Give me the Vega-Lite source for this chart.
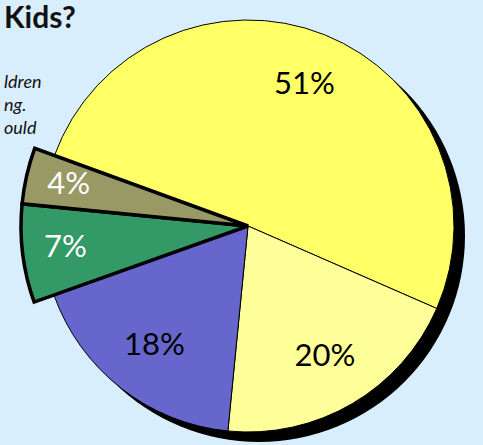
{
  "$schema": "https://vega.github.io/schema/vega-lite/v6.json",
  "autosize": {"type": "none"},
  "width": 470,
  "height": 152,
  "padding": {"left": 13, "top": 150, "right": 0, "bottom": 143},
  "background": "#d8eefc",
  "view": {"stroke": null},
  "title": {
    "text": "Kids?",
    "subtitle": ["ldren", "ng.", "ould"],
    "anchor": "start",
    "frame": "group",
    "dx": -9,
    "offset": -120,
    "font": "Lato",
    "fontSize": 30,
    "fontWeight": "bold",
    "color": "#111111",
    "subtitleFont": "Lato",
    "subtitleFontSize": 18,
    "subtitleFontStyle": "italic",
    "subtitleColor": "#111111",
    "subtitlePadding": 40,
    "subtitleLineHeight": 23
  },
  "data": {
    "values": [
      {"idx": 1, "label": "51%", "pct": 51},
      {"idx": 2, "label": "20%", "pct": 20},
      {"idx": 3, "label": "18%", "pct": 18},
      {"idx": 4, "label": "7%", "pct": 7},
      {"idx": 5, "label": "4%", "pct": 4}
    ]
  },
  "layer": [
    {
      "transform": [{"filter": "datum.idx == 1"}],
      "mark": {"type": "arc", "outerRadius": 206, "xOffset": 11, "yOffset": 10, "fill": "#000000"},
      "encoding": {}
    },
    {
      "mark": {"type": "arc", "stroke": "#000000", "outerRadius": {"expr": "datum.pct < 10 ? 227 : 206"}},
      "encoding": {
        "theta": {"field": "pct", "type": "quantitative", "stack": true, "scale": {"range": [5.0615, 11.3447]}},
        "order": {"field": "idx", "type": "quantitative"},
        "color": {
          "field": "label",
          "type": "nominal",
          "scale": {"domain": ["51%", "20%", "18%", "7%", "4%"], "range": ["#ffff66", "#ffff99", "#6666cc", "#339966", "#999966"]},
          "legend": null
        },
        "strokeWidth": {"condition": {"test": "datum.pct < 10", "value": 3.5}, "value": 1}
      }
    },
    {
      "mark": {"type": "text", "font": "Lato", "fontSize": 31, "radius": {"expr": "datum.pct < 10 ? 184 : 152"}},
      "encoding": {
        "theta": {"field": "pct", "type": "quantitative", "stack": true, "scale": {"range": [5.0615, 11.3447]}},
        "order": {"field": "idx", "type": "quantitative"},
        "text": {"field": "label"},
        "color": {"condition": {"test": "datum.pct < 10", "value": "#ffffff"}, "value": "#000000"}
      }
    }
  ]
}
